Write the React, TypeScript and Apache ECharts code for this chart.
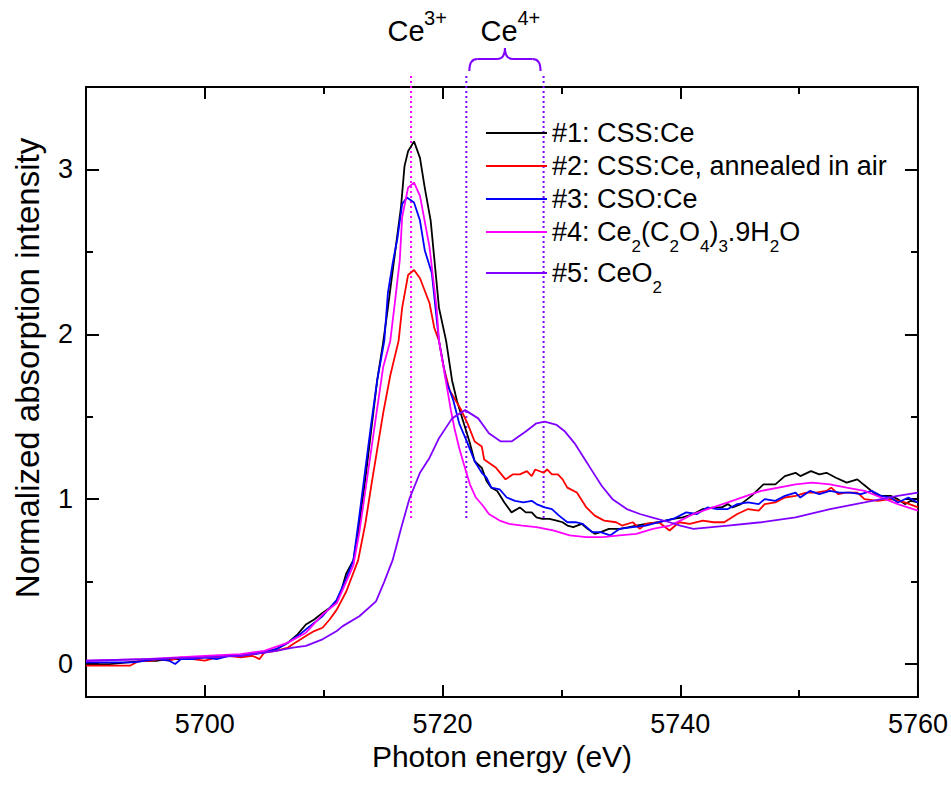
import React, { useEffect, useRef } from 'react';
import * as echarts from 'echarts';

const FONT = '"Liberation Sans", Arial, Helvetica, sans-serif';

const X_MIN = 5690;
const X_MAX = 5760;
const Y_MIN = -0.2;
const Y_MAX = 3.5;
const xLabelValues = [5700, 5720, 5740, 5760];
const xMinorValues = [5710, 5730, 5750];
const yLabelValues = [0, 1, 2, 3];
const yMinorValues = [0.5, 1.5, 2.5];

const seriesNames = [
  '#1: CSS:Ce',
  '#2: CSS:Ce, annealed in air',
  '#3: CSO:Ce',
  '#4: Ce2(C2O4)3.9H2O',
  '#5: CeO2',
];
const seriesColors = ['#000000', '#ff0000', '#0000ff', '#ff00ff', '#8000ff'];

const legendRich: Record<string, string> = {
  '#4: Ce2(C2O4)3.9H2O': '#4: Ce{s|2}(C{s|2}O{s|4}){s|3}.9H{s|2}O',
  '#5: CeO2': '#5: CeO{s|2}',
};

// marker lines (eV) and their vertical extent (intensity)
const ce3Energy = 5717.35;
const ce4Energies = [5722.0, 5728.5];
const markerBottom = 0.886;
const markerTop = 3.567;

const cssCe: number[][] = [
  [5690, 0.0], [5692, 0.0], [5693.5, 0.01], [5695, 0.02], [5696, 0.02], [5697, 0.03], [5698, 0.03],
  [5699, 0.04], [5700, 0.04], [5701, 0.04], [5702, 0.05], [5703, 0.05], [5704, 0.06], [5705, 0.07],
  [5706, 0.09], [5707, 0.13], [5707.8, 0.18], [5708.5, 0.24], [5709.2, 0.27], [5709.9, 0.31],
  [5710.5, 0.34], [5711.1, 0.38], [5711.5, 0.45], [5711.9, 0.55], [5712.5, 0.63], [5713, 0.85],
  [5713.5, 1.12], [5714, 1.42], [5714.5, 1.72], [5715, 1.95], [5715.4, 2.16], [5716.1, 2.55],
  [5716.5, 2.77], [5716.8, 3.02], [5717.1, 3.11], [5717.6, 3.17], [5718.1, 3.07], [5718.5, 2.89],
  [5719, 2.69], [5719.7, 2.16], [5720.3, 1.96], [5720.8, 1.72], [5721.2, 1.6], [5721.7, 1.48],
  [5722.3, 1.34], [5722.7, 1.23], [5723.3, 1.19], [5723.7, 1.11], [5724.1, 1.07], [5724.6, 1.05],
  [5725.2, 0.98], [5725.8, 0.92], [5726.5, 0.95], [5727, 0.92], [5727.5, 0.92], [5727.9, 0.89],
  [5728.4, 0.88], [5729, 0.88], [5729.6, 0.87], [5730.1, 0.86], [5730.5, 0.84], [5731, 0.83],
  [5731.7, 0.85], [5732.2, 0.82], [5732.8, 0.79], [5733.3, 0.8], [5734, 0.82], [5734.9, 0.82],
  [5735.7, 0.83], [5736.3, 0.84], [5737.1, 0.85], [5738.2, 0.86], [5739.4, 0.88], [5740.2, 0.89],
  [5741.1, 0.91], [5741.9, 0.94], [5742.8, 0.95], [5743.5, 0.95], [5744, 0.97], [5744.4, 0.95],
  [5745.1, 0.97], [5746, 1.02], [5747, 1.09], [5748, 1.09], [5748.8, 1.14], [5749.7, 1.16],
  [5750.1, 1.14], [5751, 1.17], [5751.7, 1.15], [5752.3, 1.16], [5753.1, 1.13], [5754, 1.1],
  [5754.9, 1.12], [5755.4, 1.09], [5756.6, 1.02], [5757.7, 1.02], [5758.3, 1.0], [5758.9, 0.97],
  [5759.4, 0.99], [5760, 0.98],
];

const cssCeAir: number[][] = [
  [5690, -0.01], [5693.7, -0.01], [5694.5, 0.02], [5695.5, 0.02], [5696.2, 0.03], [5697, 0.02],
  [5698, 0.04], [5699, 0.03], [5700, 0.02], [5701, 0.04], [5702, 0.05], [5703, 0.04], [5704, 0.05],
  [5704.6, 0.03], [5705, 0.07], [5706, 0.08], [5707, 0.1], [5707.4, 0.12], [5708.5, 0.17],
  [5709.2, 0.2], [5709.9, 0.22], [5710.5, 0.27], [5711.1, 0.33], [5711.9, 0.44], [5712.9, 0.63],
  [5713.5, 0.85], [5714, 1.08], [5714.5, 1.3], [5715, 1.52], [5715.6, 1.75], [5716.3, 1.96],
  [5716.6, 2.16], [5717.1, 2.36], [5717.6, 2.39], [5718.1, 2.34], [5718.9, 2.19], [5719.3, 2.04],
  [5719.7, 1.96], [5720.1, 1.8], [5720.6, 1.66], [5721.5, 1.55], [5722.1, 1.46], [5722.7, 1.35],
  [5723.3, 1.32], [5723.5, 1.24], [5724.5, 1.19], [5725.3, 1.12], [5725.9, 1.15], [5726.5, 1.15],
  [5727.1, 1.17], [5727.5, 1.14], [5727.8, 1.18], [5728.5, 1.16], [5728.8, 1.18], [5729.2, 1.15],
  [5729.7, 1.15], [5730.1, 1.12], [5730.5, 1.07], [5731.3, 1.04], [5732.1, 0.95], [5732.8, 0.9],
  [5733.6, 0.87], [5734.6, 0.86], [5735.1, 0.84], [5736, 0.86], [5736.6, 0.82], [5737.1, 0.85],
  [5738.2, 0.86], [5739.1, 0.81], [5739.9, 0.86], [5740.8, 0.85], [5741.9, 0.87], [5742.8, 0.86],
  [5743.7, 0.86], [5744.8, 0.91], [5745.7, 0.94], [5746.6, 0.93], [5747.1, 0.97], [5748, 0.98],
  [5748.8, 1.01], [5749.7, 1.02], [5750.6, 1.04], [5751.4, 1.04], [5752.3, 1.05], [5752.7, 1.07],
  [5753.3, 1.03], [5753.9, 1.04], [5754.9, 1.04], [5755.5, 1.0], [5756.6, 0.99], [5757.7, 1.0],
  [5758.9, 0.98], [5760, 0.95],
];

const csoCe: number[][] = [
  [5690, 0.01], [5694, 0.01], [5695, 0.02], [5696, 0.03], [5697, 0.02], [5697.5, 0.0], [5698, 0.03],
  [5699, 0.03], [5700, 0.04], [5701, 0.03], [5702, 0.05], [5703, 0.05], [5704, 0.06], [5705, 0.07],
  [5706, 0.09], [5707, 0.13], [5708, 0.18], [5708.5, 0.21], [5709.9, 0.29], [5711.1, 0.39],
  [5711.9, 0.52], [5712.5, 0.63], [5713, 0.9], [5713.5, 1.18], [5714, 1.46], [5714.5, 1.72],
  [5715.1, 1.96], [5715.4, 2.25], [5715.8, 2.43], [5716.2, 2.58], [5716.6, 2.79], [5717, 2.83],
  [5717.6, 2.8], [5718.1, 2.69], [5718.5, 2.51], [5719.1, 2.37], [5719.7, 1.96], [5720.3, 1.72],
  [5720.9, 1.6], [5721.4, 1.46], [5722.1, 1.34], [5722.7, 1.23], [5723.3, 1.16], [5723.7, 1.13],
  [5724.1, 1.07], [5724.8, 1.06], [5725.4, 1.01], [5726.1, 0.99], [5726.8, 0.98], [5727.5, 0.99],
  [5727.9, 0.97], [5728.6, 0.95], [5729.2, 0.94], [5729.8, 0.9], [5730.5, 0.86], [5731.2, 0.86],
  [5731.8, 0.85], [5732.6, 0.8], [5733.3, 0.8], [5734.1, 0.78], [5734.9, 0.82], [5736, 0.83],
  [5737.1, 0.84], [5738.2, 0.86], [5739.4, 0.88], [5740.5, 0.92], [5741.4, 0.91], [5742.3, 0.95],
  [5743.1, 0.94], [5744, 0.94], [5744.8, 0.97], [5745.7, 0.98], [5746.6, 0.97], [5747.1, 1.0],
  [5748, 0.99], [5748.8, 1.02], [5749.7, 1.04], [5750.1, 1.01], [5750.9, 1.05], [5751.7, 1.03],
  [5752.6, 1.05], [5753.4, 1.04], [5754.3, 1.04], [5755.2, 1.03], [5756.1, 1.05], [5756.9, 1.02],
  [5757.7, 1.01], [5758.3, 0.98], [5759.2, 1.01], [5760, 0.98],
];

const oxalate: number[][] = [
  [5690, 0.02], [5695, 0.03], [5700, 0.05], [5703, 0.06], [5705, 0.08], [5707, 0.13], [5708.5, 0.19],
  [5709.9, 0.3], [5711.1, 0.37], [5711.9, 0.5], [5712.5, 0.6], [5713, 0.8], [5713.5, 1.05],
  [5714, 1.3], [5714.5, 1.55], [5715, 1.8], [5715.6, 1.96], [5716, 2.2], [5716.4, 2.45],
  [5716.6, 2.71], [5717.1, 2.89], [5717.6, 2.92], [5718.1, 2.84], [5718.9, 2.53], [5719.5, 2.16],
  [5719.7, 1.96], [5720.2, 1.75], [5720.7, 1.54], [5721, 1.43], [5721.4, 1.31], [5721.8, 1.21],
  [5722.3, 1.09], [5722.8, 1.01], [5723.4, 0.96], [5723.9, 0.91], [5724.8, 0.87], [5725.6, 0.85],
  [5726.7, 0.84], [5727.9, 0.83], [5729.3, 0.81], [5730.7, 0.78], [5732.1, 0.77], [5733.5, 0.77],
  [5734.9, 0.78], [5736.3, 0.79], [5737.7, 0.82], [5739.1, 0.84], [5740, 0.87], [5741.1, 0.91],
  [5744, 0.98], [5746.8, 1.05], [5749.7, 1.09], [5751.1, 1.1], [5752.6, 1.09], [5754, 1.07],
  [5755.5, 1.05], [5756.9, 1.01], [5758.3, 0.97], [5760, 0.93],
];

const ceo2: number[][] = [
  [5690, 0.02], [5695, 0.03], [5700, 0.04], [5703, 0.05], [5705, 0.07], [5706, 0.08], [5707.4, 0.1],
  [5708.5, 0.11], [5709.9, 0.15], [5711.1, 0.2], [5711.6, 0.23], [5713, 0.29], [5714.4, 0.38],
  [5715.1, 0.5], [5715.8, 0.63], [5716.5, 0.82], [5717.2, 1.0], [5718.1, 1.16], [5718.9, 1.25],
  [5719.7, 1.37], [5720.8, 1.49], [5721.9, 1.54], [5723, 1.49], [5723.9, 1.4], [5724.9, 1.35],
  [5725.8, 1.35], [5727, 1.41], [5727.9, 1.46], [5728.6, 1.47], [5729.6, 1.45], [5730.3, 1.41],
  [5731.1, 1.34], [5731.9, 1.25], [5732.6, 1.17], [5733.4, 1.08], [5734.3, 1.0], [5735.5, 0.94],
  [5736.6, 0.91], [5737.6, 0.89], [5739.1, 0.86], [5740, 0.84], [5741.1, 0.82], [5744, 0.84],
  [5746.8, 0.86], [5749.7, 0.89], [5752.6, 0.94], [5755.5, 0.98], [5758.3, 1.02], [5760, 1.04],
];

const seriesData = [cssCe, cssCeAir, csoCe, oxalate, ceo2];

function makeX(position: 'top' | 'bottom', major: boolean, main: boolean): any {
  return {
    type: 'value',
    min: X_MIN,
    max: X_MAX,
    position,
    axisLine: { show: false, onZero: false },
    splitLine: { show: false },
    axisTick: {
      inside: true,
      length: major ? 12 : 7,
      customValues: major ? xLabelValues : xMinorValues,
      lineStyle: { color: '#000', width: 2 },
    },
    axisLabel: main
      ? {
          show: true,
          customValues: xLabelValues,
          formatter: (v: number) => String(v),
          fontSize: 27,
          color: '#000',
          margin: 13,
          fontFamily: FONT,
        }
      : { show: false },
    ...(main
      ? {
          name: 'Photon energy (eV)',
          nameLocation: 'middle',
          nameGap: 39,
          nameTextStyle: { fontSize: 30, color: '#000', fontFamily: FONT },
        }
      : {}),
  };
}

function makeY(position: 'left' | 'right', major: boolean, main: boolean): any {
  return {
    type: 'value',
    min: Y_MIN,
    max: Y_MAX,
    position,
    axisLine: { show: false, onZero: false },
    splitLine: { show: false },
    axisTick: {
      inside: true,
      length: major ? 13 : 7,
      customValues: major ? yLabelValues : yMinorValues,
      lineStyle: { color: '#000', width: 2 },
    },
    axisLabel: main
      ? {
          show: true,
          customValues: yLabelValues,
          formatter: (v: number) => String(v),
          fontSize: 27,
          color: '#000',
          margin: 13,
          fontFamily: FONT,
        }
      : { show: false },
    ...(main
      ? {
          name: 'Normalized absorption intensity',
          nameLocation: 'middle',
          nameGap: 42,
          nameTextStyle: { fontSize: 33, color: '#000', fontFamily: FONT, padding: [0, 0, 0, 48] },
        }
      : {}),
  };
}

function markerSeries(energy: number, color: string, name: string): any {
  return {
    name,
    type: 'line',
    data: [
      [energy, markerBottom],
      [energy, markerTop],
    ],
    clip: false,
    symbol: 'none',
    silent: true,
    animation: false,
    lineStyle: { color, width: 2, type: [2, 3] },
    z: 1,
  };
}

const legendTextStyle = {
  fontSize: 27,
  lineHeight: 33,
  color: '#000',
  fontFamily: FONT,
  rich: {
    s: { fontSize: 17, lineHeight: 17, padding: [22, 0, 0, 0], verticalAlign: 'top', fontFamily: FONT, color: '#000' },
  },
};

export default function App() {
  const ref = useRef<HTMLDivElement>(null);

  useEffect(() => {
    document.body.style.margin = '0';
    if (!ref.current) return;
    const chart = echarts.init(ref.current, null, { renderer: 'svg' });

    const lineSeries = seriesNames.map((name, i) => ({
      name,
      type: 'line',
      data: seriesData[i],
      symbol: 'none',
      showSymbol: false,
      lineStyle: { color: seriesColors[i], width: 1.8 },
      itemStyle: { color: seriesColors[i] },
      z: 3,
    }));

    const option: any = {
      animation: false,
      backgroundColor: '#ffffff',
      grid: {
        left: 86,
        right: 32,
        top: 87,
        bottom: 93,
        show: true,
        borderColor: '#000',
        borderWidth: 2,
        backgroundColor: 'transparent',
      },
      xAxis: [makeX('bottom', true, true), makeX('top', true, false), makeX('bottom', false, false), makeX('top', false, false)],
      yAxis: [makeY('left', true, true), makeY('right', true, false), makeY('left', false, false), makeY('right', false, false)],
      legend: [
        {
          data: seriesNames.slice(0, 4),
          orient: 'vertical',
          left: 486,
          top: 116.5,
          padding: 0,
          itemGap: 0,
          itemWidth: 61,
          itemHeight: 2,
          icon: 'rect',
          selectedMode: false,
          textStyle: legendTextStyle,
          formatter: (name: string) => legendRich[name] ?? name,
        },
        {
          data: seriesNames.slice(4),
          orient: 'vertical',
          left: 486,
          top: 256.5,
          padding: 0,
          itemGap: 0,
          itemWidth: 61,
          itemHeight: 2,
          icon: 'rect',
          selectedMode: false,
          textStyle: legendTextStyle,
          formatter: (name: string) => legendRich[name] ?? name,
        },
      ],
      series: [
        markerSeries(ce3Energy, '#ff00ff', 'Ce3+ position'),
        markerSeries(ce4Energies[0], '#8000ff', 'Ce4+ position A'),
        markerSeries(ce4Energies[1], '#8000ff', 'Ce4+ position B'),
        ...lineSeries,
      ],
    };
    chart.setOption(option);

    const x3 = chart.convertToPixel({ xAxisIndex: 0 }, ce3Energy) as number;
    const xa = chart.convertToPixel({ xAxisIndex: 0 }, ce4Energies[0]) as number;
    const xb = chart.convertToPixel({ xAxisIndex: 0 }, ce4Energies[1]) as number;
    const mid = (xa + xb) / 2;
    const bl = xa + 3;
    const br = xb - 3;
    const braceStyle = { stroke: '#8000ff', lineWidth: 2, fill: 'none' };
    const braceBottom = 71;
    const braceMid = 59;
    const braceTip = 48;
    const r = 8;

    chart.setOption({
      graphic: [
        { type: 'text', x: x3 - 23.5, y: 16, style: { text: 'Ce', fontSize: 29, fontFamily: FONT, fill: '#000', verticalAlign: 'top', align: 'left' } },
        { type: 'text', x: x3 + 13, y: 8, style: { text: '3+', fontSize: 20, fontFamily: FONT, fill: '#000', verticalAlign: 'top', align: 'left' } },
        { type: 'text', x: mid - 24.4, y: 16, style: { text: 'Ce', fontSize: 29, fontFamily: FONT, fill: '#000', verticalAlign: 'top', align: 'left' } },
        { type: 'text', x: mid + 12.5, y: 8, style: { text: '4+', fontSize: 20, fontFamily: FONT, fill: '#000', verticalAlign: 'top', align: 'left' } },
        { type: 'bezierCurve', shape: { x1: bl, y1: braceBottom, cpx1: bl, cpy1: braceMid, x2: bl + r, y2: braceMid }, style: braceStyle },
        { type: 'line', shape: { x1: bl + r, y1: braceMid, x2: mid - r, y2: braceMid }, style: braceStyle },
        { type: 'bezierCurve', shape: { x1: mid - r, y1: braceMid, cpx1: mid, cpy1: braceMid, x2: mid, y2: braceTip }, style: braceStyle },
        { type: 'bezierCurve', shape: { x1: mid, y1: braceTip, cpx1: mid, cpy1: braceMid, x2: mid + r, y2: braceMid }, style: braceStyle },
        { type: 'line', shape: { x1: mid + r, y1: braceMid, x2: br - r, y2: braceMid }, style: braceStyle },
        { type: 'bezierCurve', shape: { x1: br - r, y1: braceMid, cpx1: br, cpy1: braceMid, x2: br, y2: braceBottom }, style: braceStyle },
      ],
    });

    return () => {
      chart.dispose();
    };
  }, []);

  return <div ref={ref} style={{ width: 951, height: 790 }} />;
}
